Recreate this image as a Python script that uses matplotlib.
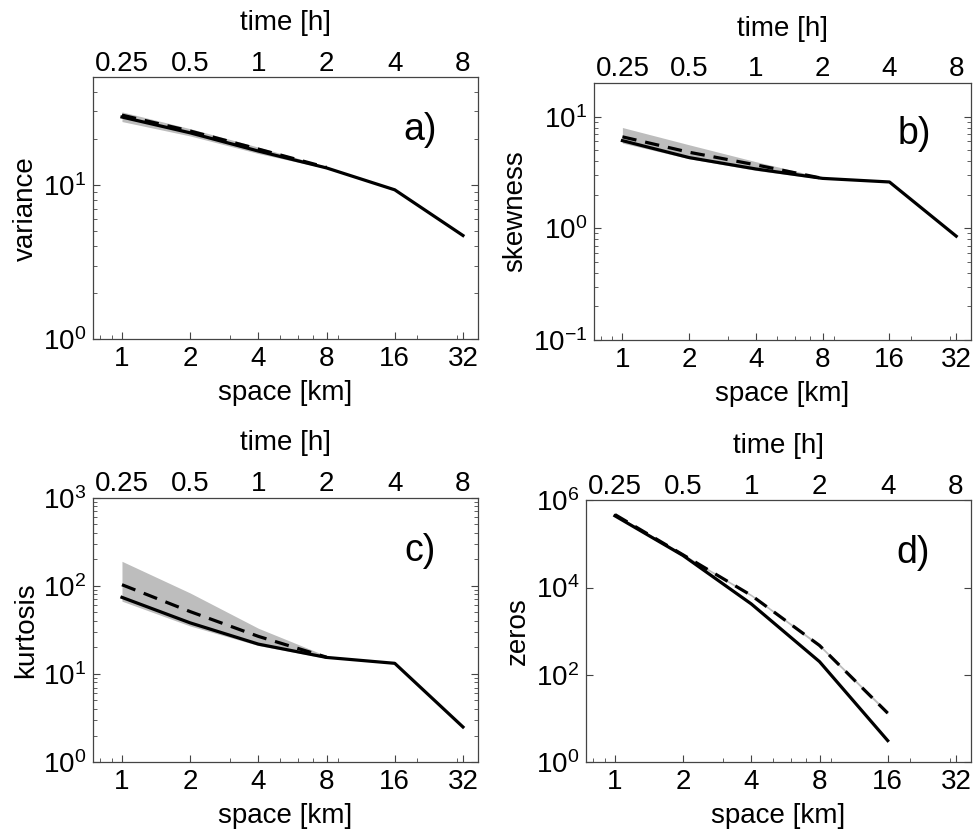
import matplotlib
matplotlib.use('Agg')
import matplotlib.pyplot as plt
from matplotlib.ticker import FixedLocator, LogLocator, LogFormatterSciNotation, NullFormatter, NullLocator

plt.rcParams['font.family'] = ['Liberation Sans', 'DejaVu Sans']
plt.rcParams['mathtext.fontset'] = 'custom'
plt.rcParams['mathtext.rm'] = 'Liberation Sans'
plt.rcParams['font.size'] = 20

# space scales [km] and time scales [h]
space = [1, 2, 4, 8, 16, 32]
space_band = [1, 2, 4, 8]
space_ticks = [1, 2, 4, 8, 16, 32]
time_ticks = [0.25, 0.5, 1, 2, 4, 8]
km_per_hour = 4

# a) variance
var_solid = [27.6, 21.8, 16.6, 12.9, 9.3, 4.7]
var_dash = [28.4, 22.4, 17.1, 13.0]
var_hi = [29.8, 23.2, 17.6, 13.2]
var_lo = [25.8, 20.8, 16.0, 12.8]

# b) skewness
skew_solid = [6.1, 4.3, 3.4, 2.8, 2.6, 0.85]
skew_dash = [6.6, 4.8, 3.7, 2.8]
skew_hi = [8.0, 5.6, 3.95, 2.85]
skew_lo = [5.8, 4.2, 3.3, 2.75]

# c) kurtosis
kurt_solid = [74, 38, 21.8, 15.4, 13.2, 2.5]
kurt_dash = [103, 51, 26.7, 15.5]
kurt_hi = [190, 83, 33, 16]
kurt_lo = [67, 35, 21, 15]

# d) zeros
space_d = [1, 2, 4, 8, 16]
zero_solid = [4.4e5, 5.4e4, 4200, 200, 3.1]
zero_dash = [4.7e5, 5.6e4, 6600, 470, 13.2]
zero_hi = [4.9e5, 5.9e4, 7000, 500, 14.5]
zero_lo = [4.5e5, 5.3e4, 6300, 440, 12.5]

panels = [
    ('variance', 'a)', space, var_solid, space_band, var_dash, var_hi, var_lo, (1, 50), [1, 10], True),
    ('skewness', 'b)', space, skew_solid, space_band, skew_dash, skew_hi, skew_lo, (0.1, 20), [0.1, 1, 10], True),
    ('kurtosis', 'c)', space, kurt_solid, space_band, kurt_dash, kurt_hi, kurt_lo, (1, 1000), [1, 10, 100, 1000], True),
    ('zeros', 'd)', space_d, zero_solid, space_d, zero_dash, zero_hi, zero_lo, (1, 1e6), [1, 1e2, 1e4, 1e6], False),
]

positions = [
    [0.0955, 0.592, 0.3953, 0.315],
    [0.6099, 0.591, 0.387, 0.309],
    [0.0955, 0.083, 0.3953, 0.318],
    [0.6016, 0.083, 0.3953, 0.315],
]

fig = plt.figure(figsize=(9.74, 8.31), dpi=100)
spine_col = '#444444'

for pos, (ylab, tag, xs, solid, xb, dash, hi, lo, ylim, yticks, yminor) in zip(positions, panels):
    ax = fig.add_axes(pos)
    ax.set_xscale('log')
    ax.set_yscale('log')
    ax.fill_between(xb, lo, hi, color='#bdbdbd', lw=0, zorder=1)
    ax.plot(xb, dash, color='black', lw=2.3, ls=(0, (4.5, 2.8)), zorder=3)
    ax.plot(xs, solid, color='black', lw=2.3, zorder=4)
    ax.set_xlim(0.745, 37.3)
    ax.set_ylim(*ylim)

    ax.xaxis.set_major_locator(FixedLocator(space_ticks))
    ax.set_xticklabels([str(s) for s in space_ticks])
    ax.xaxis.set_minor_locator(LogLocator(base=10, subs=range(2, 10)))
    ax.xaxis.set_minor_formatter(NullFormatter())
    ax.yaxis.set_major_locator(FixedLocator(yticks))
    ax.yaxis.set_major_formatter(LogFormatterSciNotation())
    if yminor:
        ax.yaxis.set_minor_locator(LogLocator(base=10, subs=range(2, 10)))
    else:
        ax.yaxis.set_minor_locator(NullLocator())
    ax.yaxis.set_minor_formatter(NullFormatter())
    ax.tick_params(which='both', direction='in', right=True, top=True, color=spine_col)
    ax.tick_params(which='major', length=5, width=0.8, pad=5)
    ax.tick_params(which='minor', length=3, width=0.6)
    ax.set_xlabel('space [km]', fontsize=20, labelpad=6)
    ax.set_ylabel(ylab, fontsize=20, labelpad=3)
    for sp in ax.spines.values():
        sp.set_color(spine_col)
        sp.set_linewidth(0.9)
    ax.text(0.85, 0.80, tag, transform=ax.transAxes, fontsize=27,
            ha='center', va='center')

    ax2 = ax.twiny()
    ax2.set_xscale('log')
    ax2.set_xlim(ax.get_xlim())
    ax2.xaxis.set_major_locator(FixedLocator([t * km_per_hour for t in time_ticks]))
    ax2.set_xticklabels([('%g' % t) for t in time_ticks])
    ax2.xaxis.set_minor_locator(NullLocator())
    ax2.tick_params(which='both', direction='in', length=0, pad=0.5)
    ax2.set_xlabel('time [h]', fontsize=20, labelpad=15)
    for sp in ax2.spines.values():
        sp.set_visible(False)

fig.savefig('out.png', dpi=100)
